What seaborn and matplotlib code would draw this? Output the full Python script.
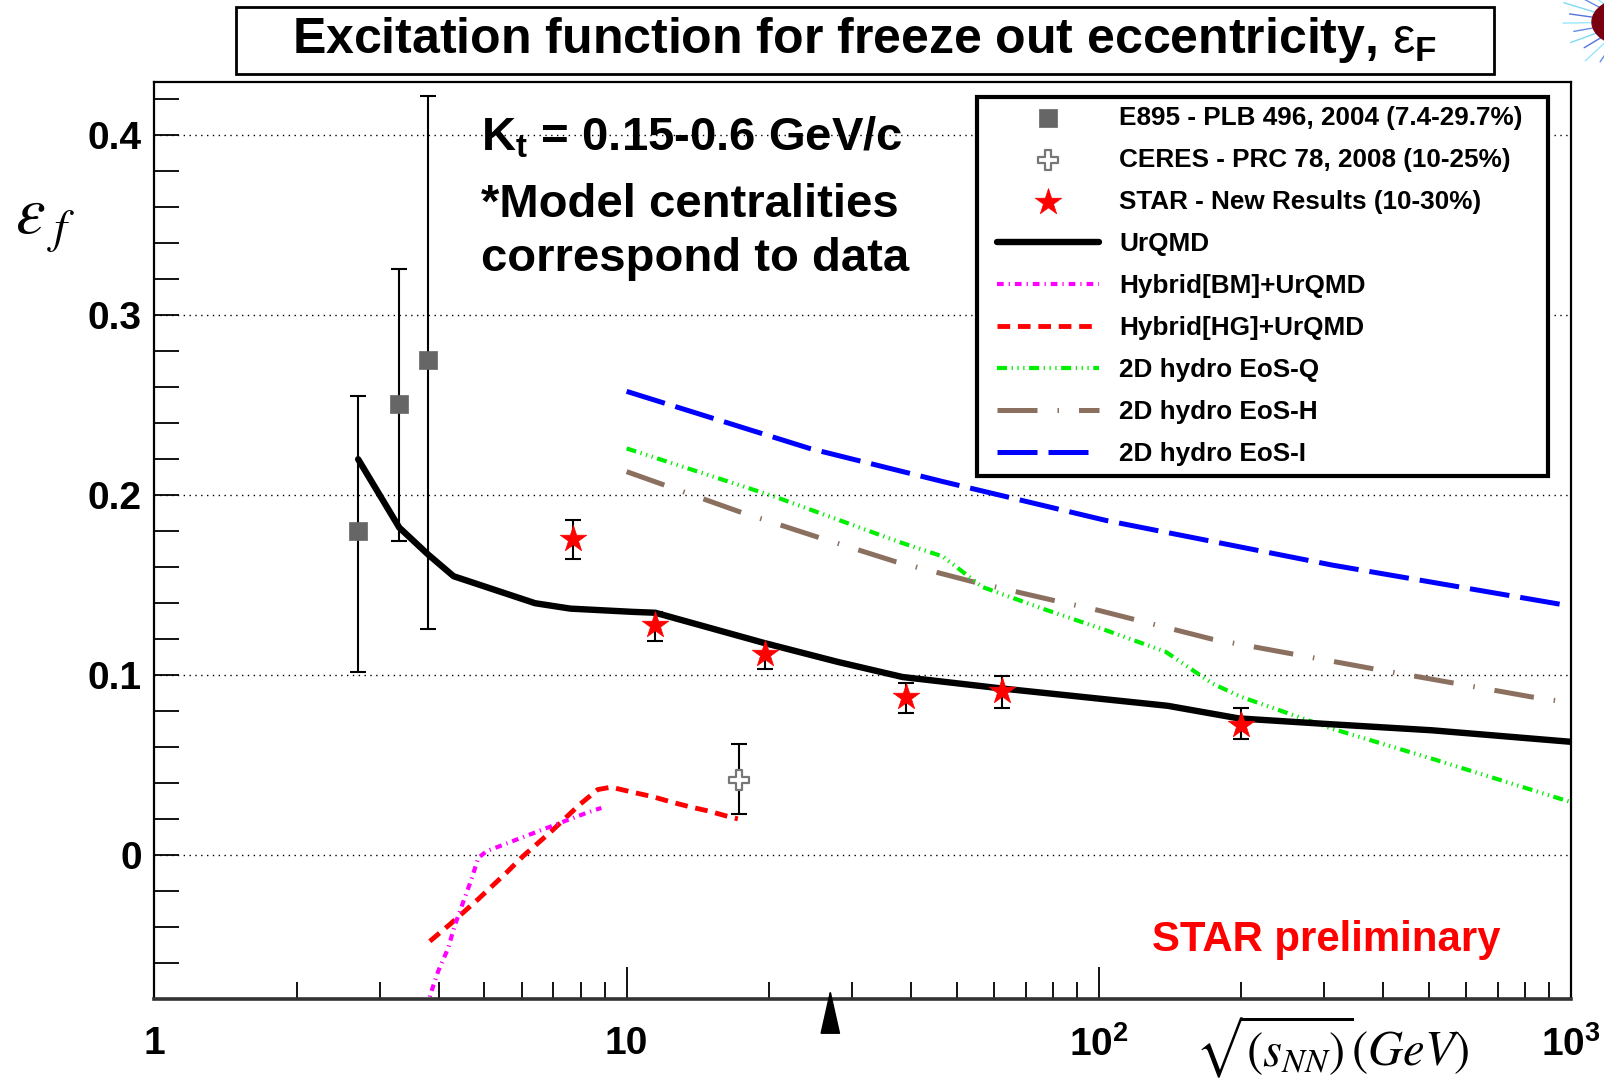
import numpy as np
import pandas as pd
import matplotlib
matplotlib.use("Agg")
import matplotlib.pyplot as plt
import seaborn as sns
from matplotlib.patches import Rectangle, Circle
from matplotlib.lines import Line2D
from matplotlib.ticker import FixedLocator, FixedFormatter, MultipleLocator, NullFormatter

# ---------------- data ----------------
e895_x = [2.7, 3.3, 3.8]
e895_y = [0.180, 0.2506, 0.275]
e895_lo = [0.102, 0.1745, 0.1255]
e895_hi = [0.255, 0.3256, 0.422]

ceres_x = [17.3]
ceres_y = [0.042]
ceres_lo = [0.023]
ceres_hi = [0.062]

star_x = [7.7, 11.5, 19.6, 39.0, 62.4, 200.0]
star_y = [0.1757, 0.1278, 0.112, 0.088, 0.0915, 0.0722]
star_lo = [0.1645, 0.119, 0.1037, 0.079, 0.082, 0.0644]
star_hi = [0.1864, 0.135, 0.118, 0.0954, 0.0996, 0.082]

urqmd_x = [2.7, 3.3, 3.8, 4.3, 6.4, 7.6, 10.3, 11.5, 19.5, 28.0, 38.4, 62.5, 100, 140, 198, 300, 508, 1000]
urqmd_y = [0.220, 0.182, 0.167, 0.155, 0.140, 0.137, 0.1352, 0.1347, 0.118, 0.1074, 0.099, 0.0926,
           0.087, 0.083, 0.076, 0.073, 0.0694, 0.063]

bm_x = [3.78, 3.84, 3.99, 4.19, 4.32, 4.50, 4.69, 4.85, 5.05, 5.93, 6.65, 7.39, 8.22, 8.84]
bm_y = [-0.085, -0.0774, -0.0644, -0.0515, -0.0394, -0.0265, -0.0135, -0.0015, 0.0022, 0.0093,
        0.0143, 0.0189, 0.0235, 0.0263]

hg_x = [3.83, 4.22, 4.84, 5.56, 6.03, 6.93, 7.95, 8.69, 9.27, 10.3, 11.4, 12.5, 13.7, 15.0, 16.5, 17.2]
hg_y = [-0.0478, -0.0385, -0.0246, -0.0098, -0.0006, 0.0133, 0.0281, 0.0365, 0.0378, 0.035,
        0.0324, 0.0294, 0.0267, 0.0244, 0.0213, 0.0202]

eosq_x = [10, 20.7, 37.8, 46.7, 56.7, 76, 103.5, 138.6, 174, 200, 312, 508, 1000]
eosq_y = [0.226, 0.199, 0.174, 0.166, 0.149, 0.137, 0.125, 0.113, 0.0954, 0.088, 0.0703, 0.0536, 0.0295]

eosh_x = [10, 17.3, 25.2, 37.2, 54, 79.8, 100, 174, 379, 827, 950]
eosh_y = [0.2131, 0.1909, 0.177, 0.163, 0.152, 0.1417, 0.136, 0.120, 0.1037, 0.0879, 0.0855]

eosi_x = [10, 24.4, 46.7, 103.5, 312, 1000]
eosi_y = [0.2577, 0.226, 0.2076, 0.186, 0.1612, 0.1384]

x_ticks = [1, 10, 100, 1000]
x_ticklabels = ["1", "10", r"$\mathbf{10^{2}}$", r"$\mathbf{10^{3}}$"]
y_ticks = [0.0, 0.1, 0.2, 0.3, 0.4]
y_ticklabels = ["0", "0.1", "0.2", "0.3", "0.4"]

labels = ["E895 - PLB 496, 2004 (7.4-29.7%)", "CERES - PRC 78, 2008 (10-25%)",
          "STAR - New Results (10-30%)", "UrQMD", "Hybrid[BM]+UrQMD", "Hybrid[HG]+UrQMD",
          "2D hydro EoS-Q", "2D hydro EoS-H", "2D hydro EoS-I"]

# ---------------- style ----------------
sns.set_theme(style="white")
plt.rcParams["font.family"] = ["Liberation Sans", "DejaVu Sans"]
plt.rcParams["mathtext.fontset"] = "custom"
plt.rcParams["mathtext.rm"] = "Liberation Sans"
plt.rcParams["mathtext.bf"] = "Liberation Sans:bold"
plt.rcParams["mathtext.it"] = "Liberation Sans:italic"
for key in ["text.color", "axes.labelcolor", "xtick.color", "ytick.color", "axes.edgecolor"]:
    plt.rcParams[key] = "black"

W, H = 1604, 1083
fig = plt.figure(figsize=(16.04, 10.83), dpi=100)
fig.patch.set_facecolor("white")
ax = fig.add_axes([0.0963, 0.0772, 0.8831, 0.8473])
ax.set_xscale("log")
ax.set_xlim(1, 1000)
ax.set_ylim(-0.0801, 0.4297)

# grid (horizontal dotted)
for yv in y_ticks:
    ax.axhline(yv, color="black", lw=1.0, ls=(0, (1, 3.2)), zorder=0.5)

# ---------------- model curves ----------------
def curve(xs, ys, color, lw, ls, label, z=2):
    df = pd.DataFrame({"x": xs, "y": ys})
    sns.lineplot(data=df, x="x", y="y", ax=ax, color=color, lw=lw, linestyle=ls,
                 sort=False, estimator=None, label=label, zorder=z)

curve(eosi_x, eosi_y, "#0000ff", 3.6, (0, (8, 2.2)), labels[8])
curve(eosh_x, eosh_y, "#8b7060", 3.6, (0, (8, 4, 0.3, 4)), labels[7])
curve(eosq_x, eosq_y, "#00ee00", 3.0, (0, (2.4, 1.1, 0.3, 1.1, 0.3, 1.1, 0.3, 1.1)), labels[6])
curve(hg_x, hg_y, "#ff0000", 3.5, (0, (2.6, 1.6)), labels[5])
curve(bm_x, bm_y, "#ff00ff", 3.0, (0, (1.6, 1.2, 0.3, 1.2)), labels[4])
curve(urqmd_x, urqmd_y, "black", 4.6, "-", labels[3], z=3)

# ---------------- data points ----------------
ekw = dict(fmt="none", ecolor="black", elinewidth=1.5, capsize=6, capthick=1.5, zorder=4)
ax.errorbar(e895_x, e895_y, yerr=[np.subtract(e895_y, e895_lo), np.subtract(e895_hi, e895_y)], **ekw)
ax.errorbar(ceres_x, ceres_y, yerr=[np.subtract(ceres_y, ceres_lo), np.subtract(ceres_hi, ceres_y)], **ekw)
ax.errorbar(star_x, star_y, yerr=[np.subtract(star_y, star_lo), np.subtract(star_hi, star_y)], **ekw)

sns.scatterplot(x=e895_x, y=e895_y, ax=ax, marker="s", s=150, color="#666666",
                edgecolor="#666666", linewidth=0.5, label=labels[0], zorder=5)
sns.scatterplot(x=ceres_x, y=ceres_y, ax=ax, marker="P", s=190, facecolor="white",
                edgecolor="#777777", linewidth=1.6, label=labels[1], zorder=5)
sns.scatterplot(x=star_x, y=star_y, ax=ax, marker="*", s=400, color="#ff0000",
                edgecolor="#ff0000", linewidth=0.5, label=labels[2], zorder=5)

# ---------------- axes styling ----------------
ax.xaxis.set_major_locator(FixedLocator(x_ticks))
ax.xaxis.set_major_formatter(FixedFormatter(x_ticklabels))
ax.xaxis.set_minor_formatter(NullFormatter())
ax.yaxis.set_major_locator(FixedLocator(y_ticks))
ax.yaxis.set_major_formatter(FixedFormatter(y_ticklabels))
ax.yaxis.set_minor_locator(MultipleLocator(0.02))
ax.tick_params(axis="x", which="major", direction="in", length=23, width=1.3, pad=19,
               labelsize=28, bottom=True, top=False, color="black", labelcolor="black")
ax.tick_params(axis="x", which="minor", direction="in", length=12, width=1.3, bottom=True, top=False,
               color="black")
ax.tick_params(axis="y", which="major", direction="in", length=18, width=1.3, pad=9,
               labelsize=28, left=True, right=False, color="black", labelcolor="black")
ax.tick_params(axis="y", which="minor", direction="in", length=18, width=1.3, left=True, right=False,
               color="black")
for lab in ax.get_xticklabels() + ax.get_yticklabels():
    lab.set_fontweight("bold")
for side in ["left", "top", "right"]:
    ax.spines[side].set_linewidth(1.6)
    ax.spines[side].set_color("black")
ax.spines["bottom"].set_linewidth(2.6)
ax.spines["bottom"].set_color("#333333")
ax.set_xlabel("")
ax.set_ylabel("")

# ---------------- legend ----------------
# legend box (drawn explicitly so its size matches the original)
ax.add_patch(Rectangle((977 / W, 1 - 476 / H), (1548 - 977) / W, (476 - 97) / H,
                       transform=fig.transFigure, facecolor="white", edgecolor="black",
                       lw=3, zorder=9, clip_on=False))
h, l = ax.get_legend_handles_labels()
hd = dict(zip(l, h))
leg = ax.legend([hd[k] for k in labels], labels, loc="upper left",
                bbox_to_anchor=(997 / W, 1 - 106 / H), bbox_transform=fig.transFigure,
                prop=dict(family="Liberation Sans", weight="bold", size=18.8),
                frameon=False, handlelength=3.9, handletextpad=0.78, labelspacing=0.69,
                borderpad=0, borderaxespad=0, labelcolor="black")
leg.set_zorder(10)

# ---------------- texts ----------------
fig.add_artist(Rectangle((236 / W, 1 - 74 / H), (1494 - 236) / W, 67 / H,
                         transform=fig.transFigure, fill=False, edgecolor="black", lw=2))
fig.text(0.539, 1 - 40 / H,
         r"Excitation function for freeze out eccentricity, $\mathrm{ε}_{\mathbf{F}}$",
         ha="center", va="center", fontsize=36, fontweight="bold", color="black")

fig.text(481 / W, 1 - 150 / H, r"K$_{\mathbf{t}}$ = 0.15-0.6 GeV/c", ha="left", va="baseline",
         fontsize=34, fontweight="bold", color="black")
fig.text(481 / W, 1 - 217 / H, "*Model centralities", ha="left", va="baseline",
         fontsize=34, fontweight="bold", color="black")
fig.text(481 / W, 1 - 271 / H, "correspond to data", ha="left", va="baseline",
         fontsize=34, fontweight="bold", color="black")

fig.text(1500 / W, 1 - 951 / H, "STAR preliminary", ha="right",
         va="baseline", fontsize=30.2, fontweight="bold", color="#ff0000")

fig.text(45 / W, 1 - 224 / H, r"$\varepsilon_{\;f}$", fontsize=48, ha="center", va="center",
         math_fontfamily="stix", color="black")
fig.text(1332 / W, 1 - 1047 / H, r"$\sqrt{(s_{NN})}(GeV)$", fontsize=35, ha="center", va="center",
         math_fontfamily="stix", color="black")

# arrow marking 27 GeV
ax.annotate("", xy=(27, 0.011), xycoords=("data", "axes fraction"),
            xytext=(27, -0.031), textcoords=("data", "axes fraction"),
            arrowprops=dict(arrowstyle="-|>,head_length=1.6,head_width=0.36", color="black",
                            lw=1.2, mutation_scale=18, shrinkA=0, shrinkB=0),
            annotation_clip=False, zorder=6)

# STAR logo fragment in the corner
logo_cx, logo_cy = 1627 / W, 1 - 22 / H
spike_angles = [105, 118, 130, 142, 152, 163, 172, 181, 190, 200, 211, 223, 236, 248]
spike_lengths = [46, 58, 52, 62, 55, 66, 58, 64, 54, 60, 50, 57, 48, 52]
spike_colors = ["#3b6fe0", "#5fd0f0", "#2a4fd0", "#7fe0ff", "#3b6fe0", "#5fd0f0", "#2a4fd0",
                "#7fe0ff", "#3b6fe0", "#5fd0f0", "#2a4fd0", "#7fe0ff", "#3b6fe0", "#5fd0f0"]
for ang, ln, col in zip(spike_angles, spike_lengths, spike_colors):
    dx = np.cos(np.radians(ang)) * ln / W
    dy = np.sin(np.radians(ang)) * ln / H
    fig.add_artist(Line2D([logo_cx, logo_cx + dx], [logo_cy, logo_cy + dy],
                          transform=fig.transFigure, color=col, lw=1.0, alpha=0.8, zorder=1))
fig.add_artist(Circle((logo_cx, logo_cy), 35 / W, transform=fig.transFigure,
                      color="#7a0010", zorder=2))

fig.savefig("out.png", dpi=100, facecolor="white")
